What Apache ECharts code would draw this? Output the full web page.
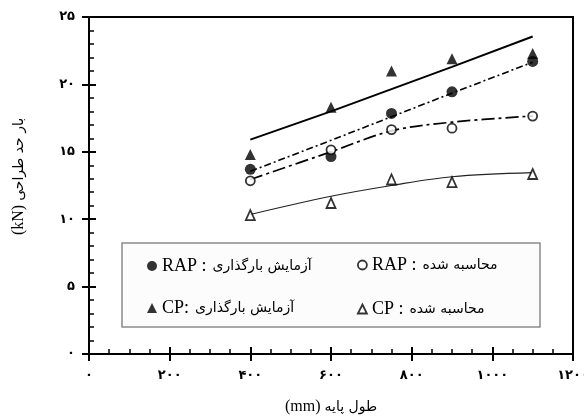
<!DOCTYPE html>
<html><head><meta charset="utf-8">
<script src="https://cdn.jsdelivr.net/npm/echarts@6/dist/echarts.min.js"></script>
<style>html,body{margin:0;padding:0;background:#fff}#c{width:584px;height:419px}</style>
</head><body><div id="c"></div>
<script>
// ---- data ----
const xValues = [400, 600, 750, 900, 1100];
const rapTest = [13.7, 14.65, 17.85, 19.45, 21.7];   // filled circles
const rapCalc = [12.85, 15.15, 16.65, 16.75, 17.65]; // open circles
const cpTest = [14.8, 18.3, 21.0, 21.9, 22.3];       // filled triangles
const cpCalc = [10.3, 11.2, 12.95, 12.75, 13.35];    // open triangles
// trend lines as drawn in the reference
const cpTestFit = [15.9, 18.0, 19.65, 21.3, 23.55];
const rapTestFit = [13.55, 15.85, 17.6, 19.35, 21.65];
const rapCalcFit = [12.95, 15.0, 16.55, 17.2, 17.65];
const cpCalcFit = [10.35, 11.7, 12.5, 13.15, 13.45];
const xTickLabels = ['۰', '۲۰۰', '۴۰۰', '۶۰۰', '۸۰۰', '۱۰۰۰', '۱۲۰۰'];
const yTickLabels = ['۰', '۵', '۱۰', '۱۵', '۲۰', '۲۵'];
const names = {
  rapTest: 'RAP :|آزمایش بارگذاری',
  rapCalc: 'RAP :|محاسبه شده',
  cpTest: 'CP:|آزمایش بارگذاری',
  cpCalc: 'CP :|محاسبه شده'
};
const xName = '(mm)|طول پایه';
const yName = '(kN)|بار حد طراحی';

const pts = arr => xValues.map((x, i) => [x, arr[i]]);
const LAT = "'Liberation Serif', 'Times New Roman', serif";
const FA = "'DejaVu Sans', sans-serif";
const richFmt = s => { const p = s.split('|'); return '{l|' + p[0] + '}{p|' + p[1] + '}'; };

const chart = echarts.init(document.getElementById('c'));

function legendAt(name, icon, left, top, style, w, h) {
  return {
    data: [{name: name, icon: icon}],
    left: left, top: top, padding: 0, itemGap: 0,
    itemWidth: w, itemHeight: h, itemStyle: style,
    selectedMode: false,
    formatter: richFmt,
    textStyle: {
      color: '#000', lineHeight: 20,
      rich: {
        l: {fontFamily: LAT, fontSize: 18, color: '#000'},
        p: {fontFamily: FA, fontSize: 14, color: '#000', padding: [0, 0, 0, 6]}
      }
    }
  };
}

const filled = {color: '#000', borderColor: '#000', borderWidth: 0};
const open = {color: '#fff', borderColor: '#000', borderWidth: 1.8};

// helper axes: tick-only (outer half of major ticks, inner minor ticks) or frame-only
function tickAxis(kind, interval, inside, len, width) {
  const isX = kind === 'x';
  return {
    type: 'value', gridIndex: 0, interval: interval,
    min: 0, max: isX ? 1200 : 25,
    position: isX ? 'bottom' : 'left',
    axisLine: {show: false}, axisLabel: {show: false}, splitLine: {show: false},
    axisTick: {show: true, inside: inside, length: len, lineStyle: {color: '#000', width: width}}
  };
}
function frameAxis(kind) {
  const isX = kind === 'x';
  return {
    type: 'value', gridIndex: 0, min: 0, max: isX ? 1200 : 25,
    position: isX ? 'top' : 'right',
    axisLine: {show: true, onZero: false, lineStyle: {color: '#000', width: 2}},
    axisTick: {show: false}, axisLabel: {show: false}, splitLine: {show: false}
  };
}

const option = {
  backgroundColor: '#fff',
  animation: false,
  grid: {left: 89, right: 11, top: 17, bottom: 65, outerBoundsMode: 'none', containLabel: false},
  xAxis: [{
    type: 'value', min: 0, max: 1200, interval: 200, position: 'bottom',
    name: richFmt(xName), nameLocation: 'middle', nameGap: 45,
    nameTextStyle: {rich: {l: {fontFamily: LAT, fontSize: 16, color: '#000'}, p: {fontFamily: FA, fontSize: 14, color: '#000', padding: [0, 0, 0, 4]}}},
    axisLine: {show: true, onZero: false, lineStyle: {color: '#000', width: 2}},
    axisTick: {show: true, inside: true, length: 7, lineStyle: {color: '#000', width: 2}},
    axisLabel: {margin: 15, fontFamily: FA, fontSize: 13, fontWeight: 'bold', color: '#000', formatter: v => xTickLabels[Math.round(v / 200)]},
    splitLine: {show: false}
  },
    tickAxis('x', 200, false, 7, 2),
    tickAxis('x', 50, true, 5, 1.5),
    frameAxis('x')
  ],
  yAxis: [{
    type: 'value', min: 0, max: 25, interval: 5, position: 'left',
    name: richFmt(yName), nameLocation: 'middle', nameGap: 62, nameRotate: 90,
    nameTextStyle: {padding: [0, 0, 0, 18], rich: {l: {fontFamily: LAT, fontSize: 16, color: '#000'}, p: {fontFamily: FA, fontSize: 14, color: '#000', padding: [0, 0, 0, 4]}}},
    axisLine: {show: true, onZero: false, lineStyle: {color: '#000', width: 2}},
    axisTick: {show: true, inside: true, length: 7, lineStyle: {color: '#000', width: 2}},
    axisLabel: {margin: 14, fontFamily: FA, fontSize: 13, fontWeight: 'bold', color: '#000', formatter: v => yTickLabels[Math.round(v / 5)]},
    splitLine: {show: false}
  },
    tickAxis('y', 5, false, 7, 2),
    tickAxis('y', 1, true, 5, 1.5),
    frameAxis('y')
  ],
  graphic: [{
    type: 'rect', z: 1, silent: true,
    shape: {x: 122, y: 243, width: 418, height: 84},
    style: {fill: '#fcfcfc', stroke: '#8a8a8a', lineWidth: 1.5}
  }],
  legend: [
    legendAt(names.rapTest, 'circle', 147, 256, filled, 10, 10),
    legendAt(names.rapCalc, 'circle', 357, 255, open, 9, 9),
    legendAt(names.cpTest, 'triangle', 147, 298, filled, 10, 10),
    legendAt(names.cpCalc, 'triangle', 357, 299, open, 9, 9)
  ],
  series: [
    {type: 'line', data: pts(cpTestFit), symbol: 'none', silent: true, z: 2,
     lineStyle: {color: '#000', width: 2, type: 'solid'}},
    {type: 'line', data: pts(rapTestFit), symbol: 'none', silent: true, z: 2,
     lineStyle: {color: '#000', width: 1.6, type: [7, 3, 2, 3]}},
    {type: 'line', data: pts(rapCalcFit), symbol: 'none', silent: true, z: 2, smooth: 0.35,
     lineStyle: {color: '#000', width: 1.7, type: [13, 4, 3, 4]}},
    {type: 'line', data: pts(cpCalcFit), symbol: 'none', silent: true, z: 2, smooth: 0.35,
     lineStyle: {color: '#222', width: 1.2, type: 'solid'}},
    {name: names.rapTest, type: 'scatter', data: pts(rapTest), symbol: 'circle', symbolSize: 11, z: 5, itemStyle: filled},
    {name: names.rapCalc, type: 'scatter', data: pts(rapCalc), symbol: 'circle', symbolSize: 9, z: 5, itemStyle: open},
    {name: names.cpTest, type: 'scatter', data: pts(cpTest), symbol: 'triangle', symbolSize: [11, 11], z: 5, itemStyle: filled},
    {name: names.cpCalc, type: 'scatter', data: pts(cpCalc), symbol: 'triangle', symbolSize: [9, 10], z: 5, itemStyle: open}
  ]
};
chart.setOption(option);
</script>
</body></html>
